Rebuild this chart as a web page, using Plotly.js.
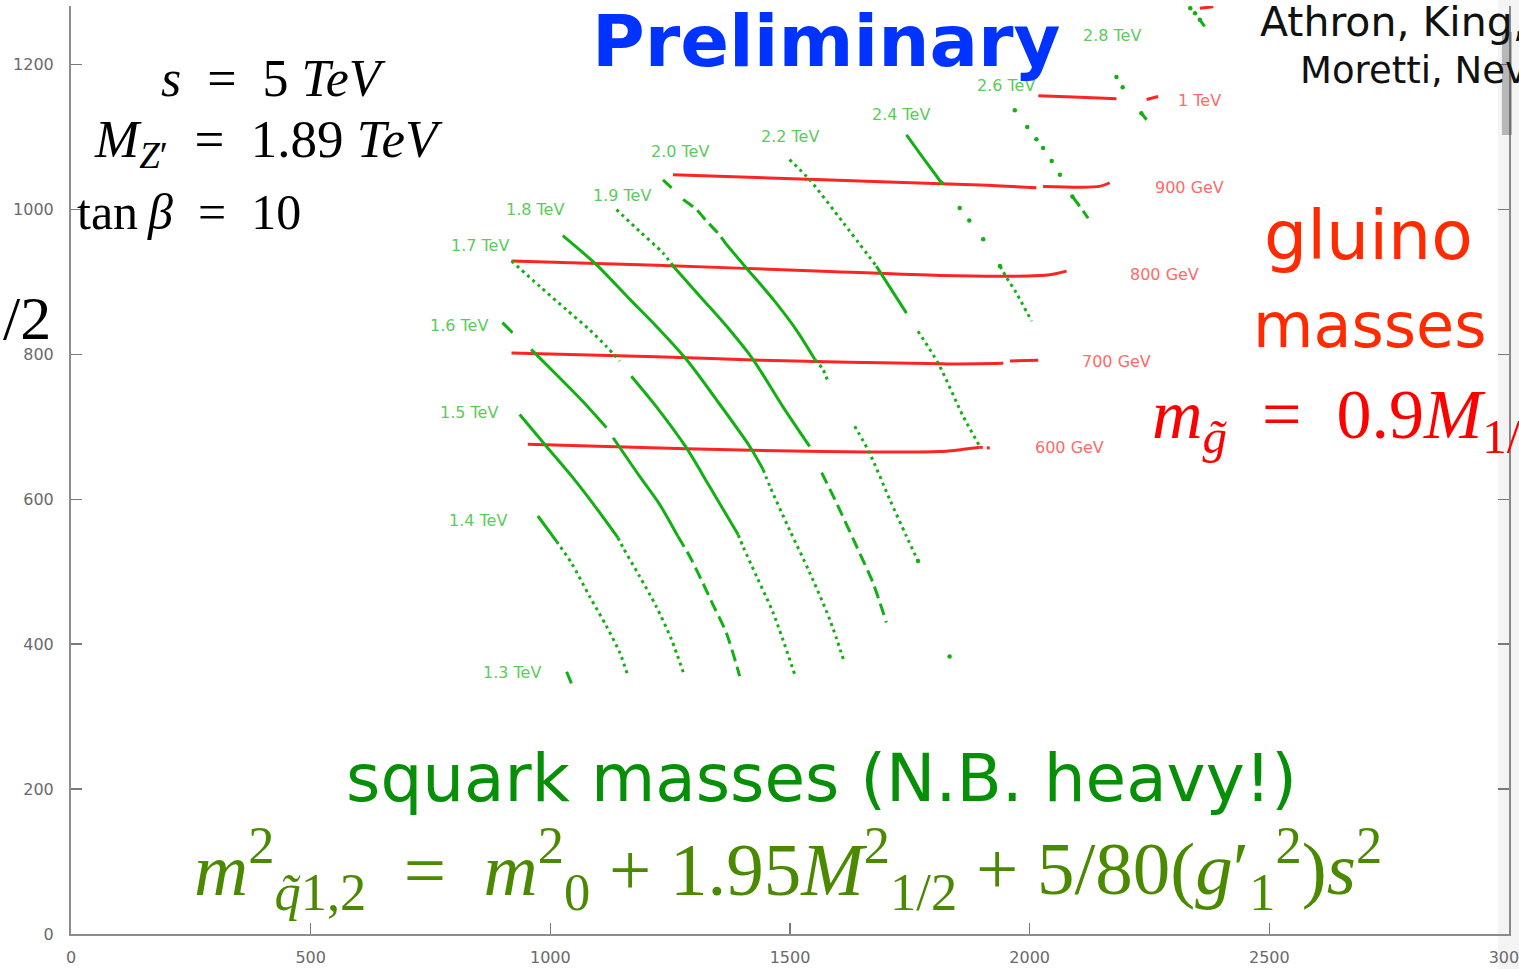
<!DOCTYPE html>
<html>
<head>
<meta charset="utf-8">
<script src="https://cdn.plot.ly/plotly-3.0.1.min.js"></script>
<style>
html,body{margin:0;padding:0;background:#fff;overflow:hidden;}
#chart{width:1519px;height:969px;}
</style>
</head>
<body>
<div id="chart"></div>
<script>
// Squark (green) and gluino (red) mass contours in the (m0, M1/2) plane, GeV.
// Segment codes between consecutive points:
//   's' solid, 'd' dotted, 'a' dashed, 'o' separate dots, '-' break.

// ---- squark contours ----
const q13_m0 = [1034, 1044];
const q13_m12 = [362, 346];
const q13_seg = ['s'];

const q14_m0 = [974, 1013, 1044, 1082, 1117, 1145, 1162];
const q14_m12 = [577, 542, 512, 466, 425, 388, 356];
const q14_seg = ['s', 'd', 'd', 'd', 'd', 'd'];

const q15_m0 = [936, 992, 1047, 1096, 1141, 1152, 1186, 1221, 1253, 1280];
const q15_m12 = [717, 673, 630, 588, 547, 533, 494, 452, 406, 356];
const q15_seg = ['s', 's', 's', 's', 'd', 'd', 'd', 'd', 'd'];

const q16_m0 = [900, 921, 960, 1013, 1068, 1117, 1131, 1186, 1228, 1266, 1291, 1315, 1339, 1367, 1395];
const q16_m12 = [844, 830, 807, 772, 735, 699, 685, 632, 593, 549, 521, 489, 455, 416, 356];
const q16_seg = ['s', '-', 's', 's', 's', '-', 's', 's', 's', 'a', 'a', 'a', 'a', 'a'];

const q17_m0 = [919, 978, 1033, 1082, 1117, 1145, 1169, 1221, 1284, 1332, 1392, 1402, 1430, 1465, 1510];
const q17_m12 = [929, 894, 862, 834, 811, 791, 770, 728, 671, 618, 551, 535, 494, 443, 358];
const q17_seg = ['d', 'd', 'd', 'd', 'd', '-', 's', 's', 's', 's', 'd', 'd', 'd', 'd'];

const q18_m0 = [1026, 1096, 1166, 1221, 1284, 1346, 1416, 1444, 1458, 1499, 1541, 1583, 1614];
const q18_m12 = [964, 924, 876, 839, 793, 738, 673, 641, 618, 558, 499, 434, 374];
const q18_seg = ['s', 's', 's', 's', 's', 's', 's', 'd', 'd', 'd', 'd', 'd'];

const q19_m0 = [1138, 1186, 1235, 1256, 1318, 1374, 1423, 1485, 1541, 1566, 1597, 1639, 1673, 1701];
const q19_m12 = [1000, 970, 940, 922, 876, 834, 793, 728, 673, 637, 595, 535, 485, 430];
const q19_seg = ['d', 'd', 'd', 's', 's', 's', 's', 's', '-', 'a', 'a', 'a', 'a'];

const q20_m0 = [1235, 1253, 1277, 1305, 1326, 1353, 1367, 1412, 1465, 1513, 1552, 1569, 1579, 1635, 1666, 1708, 1743, 1767, 1833];
const q20_m12 = [1041, 1030, 1014, 1000, 984, 965, 952, 917, 876, 834, 793, 779, 763, 701, 664, 600, 549, 515, 383];
const q20_seg = ['s', '-', 'a', 'a', 'a', 'a', 's', 's', 's', 's', 'd', 'd', '-', 'd', 'd', 'd', 'd', 'o'];

const q22_m0 = [1499, 1541, 1611, 1680, 1743, 1767, 1809, 1861, 1896];
const q22_m12 = [1069, 1041, 982, 922, 857, 832, 788, 715, 673];
const q22_seg = ['d', 'd', 'd', 's', '-', 'd', 'd', 'd'];

const q24_m0 = [1743, 1778, 1816, 1854, 1874, 1903, 1938, 1952, 1972, 2004];
const q24_m12 = [1103, 1071, 1037, 1002, 985, 959, 922, 906, 885, 846];
const q24_seg = ['s', 's', 'o', 'o', 'o', 'o', 'd', 'd', 'd'];

const q26_m0 = [1969, 1995, 2014, 2028, 2046, 2063, 2089, 2105, 2122];
const q26_m12 = [1137, 1114, 1097, 1085, 1067, 1048, 1018, 1004, 988];
const q26_seg = ['o', 'o', 'o', 'o', 'o', 'o', 'a', 'a'];

const q28_m0 = [2181, 2194, 2233, 2244];
const q28_m12 = [1183, 1169, 1133, 1124];
const q28_seg = ['o', 'o', 's'];

const q30_m0 = [2335, 2345, 2355, 2365];
const q30_m12 = [1278, 1271, 1262, 1253];
const q30_seg = ['o', 'o', 's'];

// ---- gluino contours ----
const g600_m0 = [953, 1284, 1569, 1812, 1861, 1896, 1917];
const g600_m12 = [676, 670, 666, 666, 669, 672, 671];
const g600_seg = ['s', 's', 's', 's', 's', 'd'];

const g700_m0 = [919, 1221, 1437, 1819, 1945, 1959, 2018];
const g700_m12 = [802, 797, 792, 787, 788, 791, 792];
const g700_seg = ['s', 's', 's', 's', '-', 's'];

const g800_m0 = [919, 1221, 1569, 1812, 1965, 2042, 2077];
const g800_m12 = [929, 923, 915, 909, 908, 910, 915];
const g800_seg = ['s', 's', 's', 's', 's', 's'];

const g900_m0 = [1256, 1569, 1896, 2014, 2028, 2146, 2167];
const g900_m12 = [1048, 1041, 1034, 1030, 1032, 1032, 1037];
const g900_seg = ['s', 's', 's', '-', 's', 's'];

const g1000_m0 = [2018, 2105, 2181, 2244, 2268];
const g1000_m12 = [1157, 1155, 1153, 1152, 1156];
const g1000_seg = ['s', 's', '-', 's'];

const g1100_m0 = [2355, 2383];
const g1100_m12 = [1278, 1280];
const g1100_seg = ['s'];

// ---- contour labels ----
const squarkLabels = ['1.3 TeV', '1.4 TeV', '1.5 TeV', '1.6 TeV', '1.7 TeV', '1.8 TeV',
                      '1.9 TeV', '2.0 TeV', '2.2 TeV', '2.4 TeV', '2.6 TeV', '2.8 TeV'];
const squarkLabelAtM0 = [919, 850, 830, 809, 853, 969, 1149, 1270, 1499, 1731, 1950, 2171];
const squarkLabelAtM12 = [361, 571, 720, 840, 950, 1000, 1019, 1080, 1101, 1131, 1171, 1240];

const gluinoLabels = ['600 GeV', '700 GeV', '800 GeV', '900 GeV', '1 TeV'];
const gluinoLabelAtM0 = [2084, 2182, 2282, 2334, 2355];
const gluinoLabelAtM12 = [671, 790, 910, 1030, 1150];

const SQUARK_GREEN = '#12b012';
const GLUINO_RED = '#ff2424';

const squarkSets = [
  [q13_m0, q13_m12, q13_seg], [q14_m0, q14_m12, q14_seg], [q15_m0, q15_m12, q15_seg],
  [q16_m0, q16_m12, q16_seg], [q17_m0, q17_m12, q17_seg], [q18_m0, q18_m12, q18_seg],
  [q19_m0, q19_m12, q19_seg], [q20_m0, q20_m12, q20_seg], [q22_m0, q22_m12, q22_seg],
  [q24_m0, q24_m12, q24_seg], [q26_m0, q26_m12, q26_seg], [q28_m0, q28_m12, q28_seg],
  [q30_m0, q30_m12, q30_seg]
];
const gluinoSets = [
  [g600_m0, g600_m12, g600_seg], [g700_m0, g700_m12, g700_seg], [g800_m0, g800_m12, g800_seg],
  [g900_m0, g900_m12, g900_seg], [g1000_m0, g1000_m12, g1000_seg], [g1100_m0, g1100_m12, g1100_seg]
];

const DASHES = { s: 'solid', d: '3px,4px', a: '12px,6px' };

// Split a contour into runs of equal segment style and turn each run into a trace.
function contourTraces(m0, m12, seg, color, width) {
  const out = [];
  let i = 0;
  while (i < seg.length) {
    const code = seg[i];
    let j = i;
    while (j < seg.length && seg[j] === code) j++;
    if (code !== '-') {
      const xs = m0.slice(i, j + 1);
      const ys = m12.slice(i, j + 1);
      if (code === 'o') {
        out.push({ type: 'scatter', mode: 'markers', x: xs, y: ys,
                   marker: { color: color, size: width + 1.5 },
                   hoverinfo: 'skip', showlegend: false });
      } else {
        out.push({ type: 'scatter', mode: 'lines', x: xs, y: ys,
                   line: { color: color, width: width, dash: DASHES[code], shape: 'spline', smoothing: 0.8 },
                   hoverinfo: 'skip', showlegend: false });
      }
    }
    i = j;
  }
  return out;
}

let traces = [];
gluinoSets.forEach(s => { traces = traces.concat(contourTraces(s[0], s[1], s[2], GLUINO_RED, 3)); });
squarkSets.forEach(s => { traces = traces.concat(contourTraces(s[0], s[1], s[2], SQUARK_GREEN, 3)); });

const annotations = [];
squarkLabels.forEach((t, k) => annotations.push({
  x: squarkLabelAtM0[k], y: squarkLabelAtM12[k], xref: 'x', yref: 'y', text: t, showarrow: false,
  font: { family: 'DejaVu Sans', size: 16, color: '#5ccb5c' }
}));
gluinoLabels.forEach((t, k) => annotations.push({
  x: gluinoLabelAtM0[k], y: gluinoLabelAtM12[k], xref: 'x', yref: 'y', text: t, showarrow: false,
  font: { family: 'DejaVu Sans', size: 16, color: '#ff6a6a' }
}));

const serif = 'Liberation Serif, DejaVu Serif, serif';
const hand = 'DejaVu Sans, sans-serif';
function note(text, x, y, xanchor, font) {
  annotations.push({ xref: 'paper', yref: 'paper', x: x, y: y, xanchor: xanchor, yanchor: 'middle',
                     text: text, showarrow: false, font: font });
}

note('<b>Preliminary</b>', 0.525, 0.9620, 'center', { family: 'DejaVu Sans', size: 72, color: '#0033ff' });
note('<i>s</i>\u2002=\u20025 <i>TeV</i>', 0.1405, 0.9224, 'center', { family: serif, size: 52, color: '#000' });
note('<i>M</i><sub><i>Z</i>\u2032</sub>\u2002=\u20021.89 <i>TeV</i>', 0.0146, 0.8524, 'left', { family: serif, size: 53, color: '#000' });
note('tan\u2009<i>\u03b2</i>\u2002=\u200210', 0.0028, 0.7780, 'left', { family: serif, size: 50, color: '#000' });
note('/2', -0.0125, 0.6635, 'right', { family: serif, size: 62, color: '#000' });
note('Athron, King, Miller,', 0.8255, 0.9828, 'left', { family: hand, size: 41, color: '#111' });
note('Moretti, Nevzorov', 0.8533, 0.9300, 'left', { family: hand, size: 37, color: '#111' });
note('gluino', 0.9026, 0.7532, 'center', { family: hand, size: 68, color: '#ff2a00' });
note('masses', 0.9033, 0.6562, 'center', { family: hand, size: 62, color: '#ff2a00' });
note('<i>m</i><sub><i>g\u0303</i></sub>\u2002=\u20020.9<i>M</i><sub>1/2</sub>', 0.7503, 0.5539, 'left', { family: serif, size: 70, color: '#ff0000' });
note('squark masses (N.B. heavy!)', 0.5216, 0.1681, 'center', { family: hand, size: 66, color: '#088f08' });
note('<i>m</i><sup>2</sup><sub><i>q\u0303</i>1,2</sub>\u2002=\u2002<i>m</i><sup>2</sup><sub>0</sub> + 1.95<i>M</i><sup>2</sup><sub>1/2</sub> + 5/80(<i>g</i>\u2032<sub>1</sub><sup>2</sup>)<i>s</i><sup>2</sup>',
     0.4986, 0.0711, 'center', { family: serif, size: 75, color: '#4b8a00' });

const axisCommon = {
  showgrid: false, zeroline: false, showline: true, linecolor: '#8c8c8c', linewidth: 2,
  ticks: 'inside', ticklen: 11, tickwidth: 1.5, tickcolor: '#7a7a7a',
  tickfont: { family: 'DejaVu Sans', size: 16, color: '#6a6a6a' }
};

const layout = {
  width: 1519, height: 969,
  margin: { l: 71, r: 10, t: 6, b: 35, pad: 0 },
  paper_bgcolor: '#fff', plot_bgcolor: '#fff',
  showlegend: false,
  xaxis: Object.assign({}, axisCommon, { range: [0, 3000], dtick: 500, tick0: 0, ticklabelstandoff: 8, ticklabeloverflow: 'allow' }),
  yaxis: Object.assign({}, axisCommon, { range: [0, 1281], dtick: 200, tick0: 0, mirror: 'ticks', ticklabelstandoff: 12 }),
  annotations: annotations,
  shapes: [
    { type: 'rect', xref: 'paper', yref: 'paper', x0: 0.9923, x1: 1.007, y0: -0.04, y1: 1.007,
      line: { width: 0 }, fillcolor: 'rgba(120,120,120,0.08)', layer: 'above' },
    { type: 'rect', xref: 'paper', yref: 'paper', x0: 0.9951, x1: 1.0021, y0: 0.861, y1: 0.972,
      line: { width: 0 }, fillcolor: 'rgba(70,70,70,0.35)', layer: 'above' }
  ]
};

Plotly.newPlot('chart', traces, layout, { displayModeBar: false, staticPlot: true });
</script>
</body>
</html>
